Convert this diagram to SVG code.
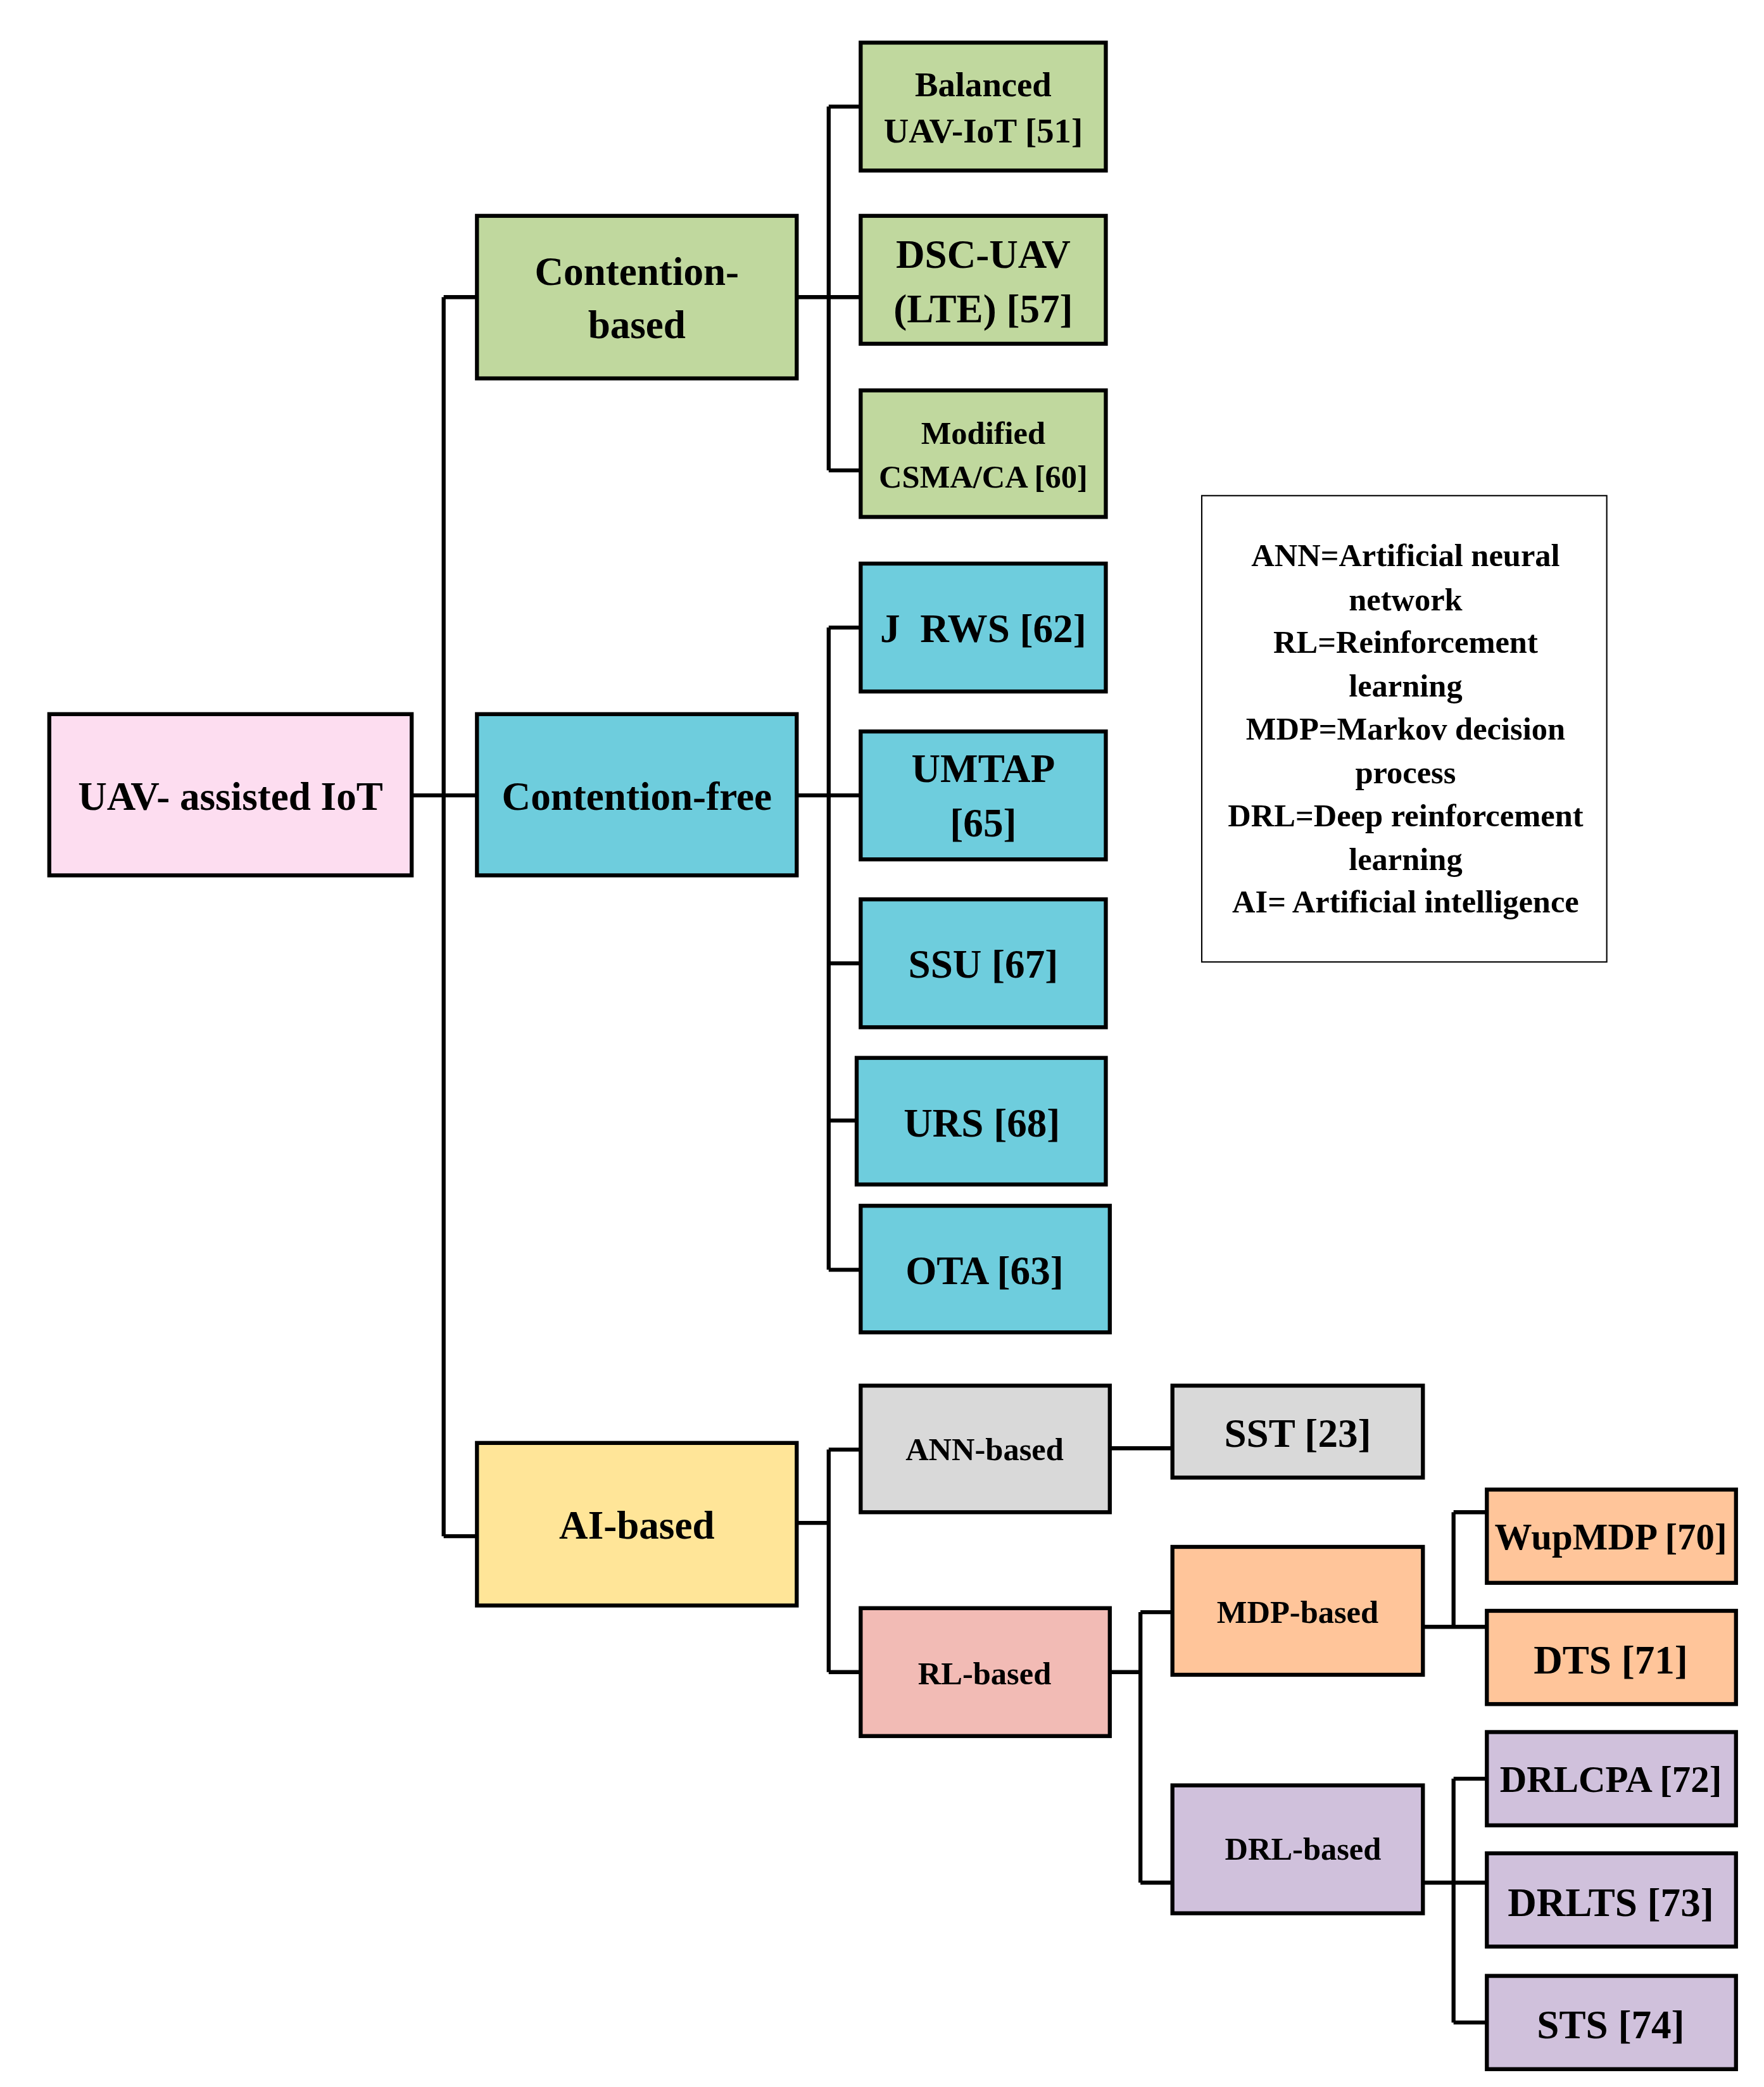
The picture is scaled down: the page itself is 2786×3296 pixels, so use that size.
<svg xmlns="http://www.w3.org/2000/svg" width="2786" height="3296" viewBox="0 0 2786 3296">
<style>
.b{stroke:#000;stroke-width:3}
text{font-family:"Liberation Serif",serif;font-weight:bold;text-anchor:middle;fill:#000}
.l{fill:none;stroke:#000;stroke-width:3}
.g{fill:#C0D89E}.c{fill:#6ECDDD}.y{fill:#FFE598}.p{fill:#FDDDF0}.gr{fill:#D9D9D9}.r{fill:#F2BBB5}.o{fill:#FFC59A}.v{fill:#D0C1DC}
</style>
<rect width="2786" height="3296" fill="#fff"/>
<g transform="scale(2.1042)">
<g id="connectors">
<path class="l" d="M309 597H333M333 223V1153M333 223H358M333 597H358M333 1153H358"/>
<path class="l" d="M598 223H646M622 80V353M622 80H646M622 353H646"/>
<path class="l" d="M598 597H646M622 471V953M622 471H646M622 723H646M622 841H643M622 953H646"/>
<path class="l" d="M598 1143H622M622 1088V1255M622 1088H646M622 1255H646"/>
<path class="l" d="M833 1087H880"/>
<path class="l" d="M833 1255H856M856 1210V1413M856 1210H880M856 1413H880"/>
<path class="l" d="M1068 1221H1116M1091 1135V1221M1091 1135H1116"/>
<path class="l" d="M1068 1413H1116M1091 1335V1518M1091 1335H1116M1091 1518H1116"/>
</g>
<g id="root"><rect class="b p" x="37" y="536" width="272" height="121"/><text x="173" y="608" font-size="30">UAV- assisted IoT</text></g>
<g id="cb"><rect class="b g" x="358" y="162" width="240" height="122"/><text x="478" y="214" font-size="30">Contention-</text><text x="478" y="254" font-size="30">based</text></g>
<g id="cf"><rect class="b c" x="358" y="536" width="240" height="121"/><text x="478" y="608" font-size="30">Contention-free</text></g>
<g id="ai"><rect class="b y" x="358" y="1083" width="240" height="122"/><text x="478" y="1155" font-size="30">AI-based</text></g>
<g id="bal"><rect class="b g" x="646" y="32" width="184" height="96"/><text x="738" y="72" font-size="26">Balanced</text><text x="738" y="107" font-size="26">UAV-IoT [51]</text></g>
<g id="dsc"><rect class="b g" x="646" y="162" width="184" height="96"/><text x="738" y="201" font-size="30">DSC-UAV</text><text x="738" y="242" font-size="30">(LTE) [57]</text></g>
<g id="mod"><rect class="b g" x="646" y="293" width="184" height="95"/><text x="738" y="333" font-size="24">Modified</text><text x="738" y="366" font-size="24">CSMA/CA [60]</text></g>
<g id="jrws"><rect class="b c" x="646" y="423" width="184" height="96"/><text x="738" y="482" font-size="30" xml:space="preserve">J  RWS [62]</text></g>
<g id="umtap"><rect class="b c" x="646" y="549" width="184" height="96"/><text x="738" y="587" font-size="30">UMTAP</text><text x="738" y="628" font-size="30">[65]</text></g>
<g id="ssu"><rect class="b c" x="646" y="675" width="184" height="96"/><text x="738" y="734" font-size="30">SSU [67]</text></g>
<g id="urs"><rect class="b c" x="643" y="794" width="187" height="95"/><text x="737" y="853" font-size="30">URS [68]</text></g>
<g id="ota"><rect class="b c" x="646" y="905" width="187" height="95"/><text x="739" y="964" font-size="30">OTA [63]</text></g>
<g id="ann"><rect class="b gr" x="646" y="1040" width="187" height="95"/><text x="739" y="1096" font-size="24">ANN-based</text></g>
<g id="sst"><rect class="b gr" x="880" y="1040" width="188" height="69"/><text x="974" y="1086" font-size="30">SST [23]</text></g>
<g id="rl"><rect class="b r" x="646" y="1207" width="187" height="96"/><text x="739" y="1264" font-size="24">RL-based</text></g>
<g id="mdp"><rect class="b o" x="880" y="1161" width="188" height="96"/><text x="974" y="1218" font-size="24">MDP-based</text></g>
<g id="drl"><rect class="b v" x="880" y="1340" width="188" height="96"/><text x="978" y="1396" font-size="24">DRL-based</text></g>
<g id="wup"><rect class="b o" x="1116" y="1118" width="187" height="70"/><text x="1209" y="1163" font-size="28">WupMDP [70]</text></g>
<g id="dts"><rect class="b o" x="1116" y="1209" width="187" height="70"/><text x="1209" y="1256" font-size="30">DTS [71]</text></g>
<g id="drlcpa"><rect class="b v" x="1116" y="1300" width="187" height="70"/><text x="1209" y="1345" font-size="28">DRLCPA [72]</text></g>
<g id="drlts"><rect class="b v" x="1116" y="1391" width="187" height="70"/><text x="1209" y="1438" font-size="30">DRLTS [73]</text></g>
<g id="sts"><rect class="b v" x="1116" y="1483" width="187" height="70"/><text x="1209" y="1530" font-size="30">STS [74]</text></g>
<g id="legend"><rect x="902" y="372" width="304" height="350" fill="#fff" stroke="#000" stroke-width="1"/>
<g font-size="24"><text x="1055" y="425" font-weight="normal">ANN=Artificial neural</text><text x="1055" y="458">network</text><text x="1055" y="490">RL=Reinforcement</text><text x="1055" y="523">learning</text><text x="1055" y="555">MDP=Markov decision</text><text x="1055" y="588">process</text><text x="1055" y="620">DRL=Deep reinforcement</text><text x="1055" y="653">learning</text><text x="1055" y="685">AI= Artificial intelligence</text></g></g>
</g>
</svg>
